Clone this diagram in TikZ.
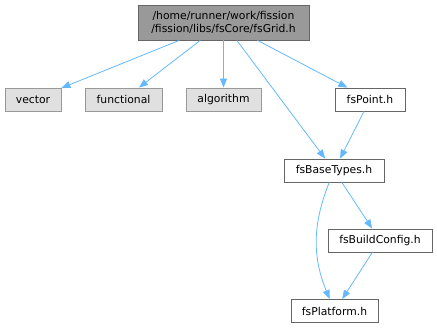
\documentclass[tikz,border=0pt]{standalone}
\usepackage{fontspec}
\setmainfont{DejaVu Sans}
\usetikzlibrary{arrows.meta, positioning}

\definecolor{edgeblue}{HTML}{63B8FF}
\definecolor{rootfill}{HTML}{999999}
\definecolor{rootline}{HTML}{666666}
\definecolor{sysfill}{HTML}{E0E0E0}
\definecolor{sysline}{HTML}{999999}

\begin{document}
\begin{tikzpicture}[
		x=1pt, y=-1pt,
		every node/.style={font=\fontsize{10.8}{12.5}\selectfont},
		header/.style={
			rectangle,
			draw=rootline,
			fill=white,
			align=center,
			inner sep=0pt,
			line width=0.8pt,
			minimum height=23pt
		},
		rootbox/.style={
			header,
			fill=rootfill,
			minimum height=35pt
		},
		sysbox/.style={
			header,
			draw=sysline,
			fill=sysfill
		},
		arrow/.style={
			-{Triangle[length=9pt,width=7pt]},
			draw=edgeblue,
			line width=0.8pt
		}
		]
		\useasboundingbox (0,0) rectangle (437,328);
		
		% Nodes
		\node[rootbox, minimum width=171pt] (grid) at (223.5,22.5) {/home/runner/work/fission\\/fission/libs/fsCore/fsGrid.h};
		
		\node[sysbox, minimum width=56pt] (vector) at (33,99.5) {vector};
		\node[sysbox, minimum width=77pt] (functional) at (123.5,99.5) {functional};
		\node[sysbox, minimum width=75pt] (algorithm) at (223.5,99.5) {algorithm};
		\node[header, minimum width=70pt] (point) at (370,99.5) {fsPoint.h};
		
		\node[header, minimum width=100pt] (basetypes) at (334,170.5) {fsBaseTypes.h};
		\node[header, minimum width=104pt] (buildconfig) at (380,240.5) {fsBuildConfig.h};
		\node[header, minimum width=87pt] (platform) at (334.5,311) {fsPlatform.h};
		
		% Arrows
		\draw[arrow] (grid) -- (vector);
		\draw[arrow] (grid) -- (functional);
		\draw[arrow] (grid) -- (algorithm);
		\draw[arrow] (grid) -- (basetypes);
		\draw[arrow] (grid) -- (point);
		
		\draw[arrow] (point) -- (basetypes);
		\draw[arrow] (basetypes) -- (buildconfig);
		\draw[arrow] (buildconfig) -- (platform);
		
		% Curved edge on the left
		\draw[arrow] (basetypes) to[bend right=22] (platform);
	\end{tikzpicture}
\end{document}
